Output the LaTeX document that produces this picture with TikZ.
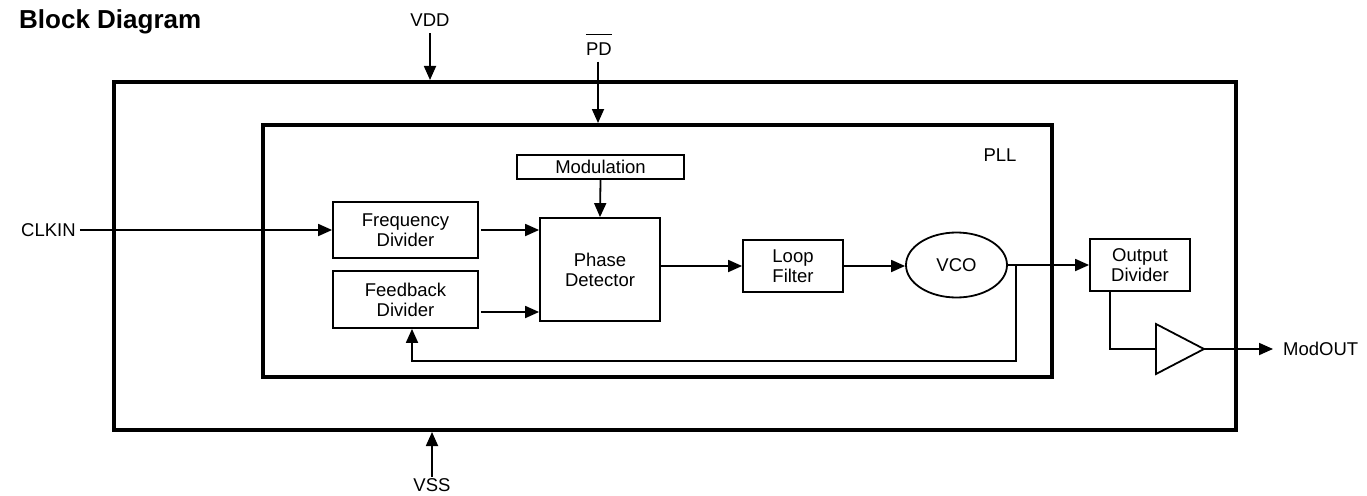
\documentclass[tikz,border=0pt]{standalone}
\usepackage{fontspec}
\setmainfont{Liberation Sans}
\usetikzlibrary{arrows.meta,shapes.geometric,calc}
\begin{document}
\begin{tikzpicture}[x=1pt,y=-1pt,
  txt/.style={font=\fontsize{18.5}{20}\selectfont, inner sep=0pt, align=center},
  blk/.style={txt, draw, line width=1.8pt},
  heavy/.style={draw, line width=4pt, inner sep=0pt},
  arr/.style={line width=1.8pt, -{Triangle[length=14pt,width=12pt]}},
  wire/.style={line width=1.8pt}]
\useasboundingbox (0,0) rectangle (1367,495);
% frames
\node (outer) [heavy, minimum width=1122pt, minimum height=348pt] at (675,256) {};
\node (inner) [heavy, minimum width=789pt, minimum height=252pt] at (657.5,251) {};
% title and labels
\node (title) [anchor=west, inner sep=0pt, font=\fontsize{26}{28}\selectfont\bfseries] at (19,22) {Block Diagram};
\node (vdd) [txt] at (430,20.5) {VDD};
\node (pdl) [txt] at (599,49) {PD};
\node (vss) [txt] at (432,485.5) {VSS};
\node (clkin) [txt, anchor=west] at (21,230) {CLKIN};
\node (pll) [txt] at (1000,155) {PLL};
\node (modout) [txt, anchor=west] at (1283,349) {ModOUT};
% blocks
\node (mod) [blk, minimum width=167pt, minimum height=24pt] at (600.5,167) {Modulation};
\node (pd) [blk, minimum width=120pt, minimum height=103pt] at (600,269.5) {Phase\\Detector};
\node (freq) [blk, minimum width=145pt, minimum height=56pt] at (405.5,230) {Frequency\\Divider};
\node (fb) [blk, minimum width=145pt, minimum height=57pt] at (405.5,299.5) {Feedback\\Divider};
\node (lf) [blk, minimum width=100pt, minimum height=52pt] at (793,266) {Loop\\Filter};
\node (vco) [blk, ellipse, minimum width=101pt, minimum height=65pt] at (956.5,265) {VCO};
\node (od) [blk, minimum width=100pt, minimum height=52pt] at (1140,265) {Output\\Divider};
% buffer triangle
\coordinate (bufin) at (1156,349);
\coordinate (bufout) at (1204,349);
\draw[wire, line join=miter] (1156,324) -- (bufout) -- (1156,374) -- cycle;
% overline of PD
\draw[line width=1.5pt] ([yshift=8pt]pdl.north west) -- ([yshift=8pt]pdl.north east);
% supply arrows
\draw[arr, shorten <=6pt] (vdd.south) -- (vdd.south |- outer.north);
\draw[arr, shorten <=6pt] ([xshift=-1pt]pdl.south) -- ([xshift=-1pt]pdl.south |- inner.north);
\draw[arr, shorten <=2pt] (vss.north) -- (vss.north |- outer.south);
% signal path
\draw[arr, shorten <=4pt] (clkin.east) -- (freq.west);
\draw[arr, shorten <=2pt] (freq.east) -- (freq.east -| pd.west);
\draw[arr, shorten <=2pt] ($(fb.east)+(0,12.5)$) -- ($(fb.east -| pd.west)+(0,12.5)$);
\draw[arr] (mod.south) -- (pd.north);
\draw[arr] (pd.east |- lf.west) -- (lf.west);
\draw[arr] (lf.east) -- (lf.east -| vco.west);
\draw[arr] (vco.east) -- (od.west);
\coordinate (tap) at (1016,265);
\draw[arr] (tap) -- ++(0,96) -| ([xshift=6.5pt]fb.south);
\draw[wire] ([xshift=-30pt]od.south) |- (bufin);
\draw[arr, shorten >=10pt] (bufout) -- (modout.west);
\end{tikzpicture}
\end{document}
